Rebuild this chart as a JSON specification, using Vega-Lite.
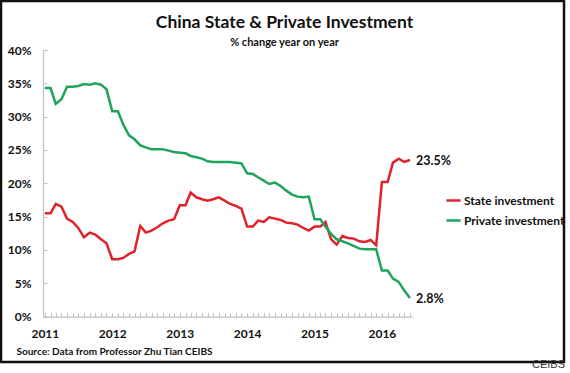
{
  "$schema": "https://vega.github.io/schema/vega-lite/v6.json",
  "autosize": "none",
  "padding": {"left": 1, "top": 1, "right": 6, "bottom": 11},
  "width": 563,
  "height": 361,
  "background": "white",
  "view": {"stroke": "#111111", "strokeWidth": 2.5},
  "title": {
    "text": "China State & Private Investment",
    "subtitle": "% change year on year",
    "anchor": "middle",
    "frame": "group",
    "offset": -47,
    "dx": 2,
    "font": "Lato",
    "fontSize": 17.5,
    "fontWeight": "bold",
    "color": "#111111",
    "subtitleFont": "Lato",
    "subtitleFontSize": 11,
    "subtitleFontWeight": "bold",
    "subtitleColor": "#111111",
    "subtitlePadding": 6
  },
  "data": {
    "values": [
      {"date": "2011/01/01", "State investment": 15.5, "Private investment": 34.3},
      {"date": "2011/02/01", "State investment": 15.5, "Private investment": 34.3},
      {"date": "2011/03/01", "State investment": 16.9, "Private investment": 31.9},
      {"date": "2011/04/01", "State investment": 16.5, "Private investment": 32.6},
      {"date": "2011/05/01", "State investment": 14.7, "Private investment": 34.5},
      {"date": "2011/06/01", "State investment": 14.2, "Private investment": 34.5},
      {"date": "2011/07/01", "State investment": 13.3, "Private investment": 34.6},
      {"date": "2011/08/01", "State investment": 11.9, "Private investment": 34.9},
      {"date": "2011/09/01", "State investment": 12.6, "Private investment": 34.8},
      {"date": "2011/10/01", "State investment": 12.3, "Private investment": 35.0},
      {"date": "2011/11/01", "State investment": 11.6, "Private investment": 34.8},
      {"date": "2011/12/01", "State investment": 11.0, "Private investment": 34.1},
      {"date": "2012/01/01", "State investment": 8.6, "Private investment": 30.8},
      {"date": "2012/02/01", "State investment": 8.6, "Private investment": 30.8},
      {"date": "2012/03/01", "State investment": 8.8, "Private investment": 28.8},
      {"date": "2012/04/01", "State investment": 9.4, "Private investment": 27.2},
      {"date": "2012/05/01", "State investment": 9.8, "Private investment": 26.6},
      {"date": "2012/06/01", "State investment": 13.6, "Private investment": 25.7},
      {"date": "2012/07/01", "State investment": 12.6, "Private investment": 25.4},
      {"date": "2012/08/01", "State investment": 12.9, "Private investment": 25.1},
      {"date": "2012/09/01", "State investment": 13.4, "Private investment": 25.1},
      {"date": "2012/10/01", "State investment": 14.0, "Private investment": 25.1},
      {"date": "2012/11/01", "State investment": 14.4, "Private investment": 24.9},
      {"date": "2012/12/01", "State investment": 14.6, "Private investment": 24.7},
      {"date": "2013/01/01", "State investment": 16.7, "Private investment": 24.6},
      {"date": "2013/02/01", "State investment": 16.7, "Private investment": 24.5},
      {"date": "2013/03/01", "State investment": 18.6, "Private investment": 24.1},
      {"date": "2013/04/01", "State investment": 17.9, "Private investment": 23.9},
      {"date": "2013/05/01", "State investment": 17.6, "Private investment": 23.7},
      {"date": "2013/06/01", "State investment": 17.4, "Private investment": 23.3},
      {"date": "2013/07/01", "State investment": 17.6, "Private investment": 23.2},
      {"date": "2013/08/01", "State investment": 17.9, "Private investment": 23.2},
      {"date": "2013/09/01", "State investment": 17.4, "Private investment": 23.2},
      {"date": "2013/10/01", "State investment": 16.9, "Private investment": 23.2},
      {"date": "2013/11/01", "State investment": 16.6, "Private investment": 23.1},
      {"date": "2013/12/01", "State investment": 16.2, "Private investment": 23.0},
      {"date": "2014/01/01", "State investment": 13.5, "Private investment": 21.5},
      {"date": "2014/02/01", "State investment": 13.5, "Private investment": 21.4},
      {"date": "2014/03/01", "State investment": 14.4, "Private investment": 20.9},
      {"date": "2014/04/01", "State investment": 14.2, "Private investment": 20.4},
      {"date": "2014/05/01", "State investment": 14.9, "Private investment": 19.9},
      {"date": "2014/06/01", "State investment": 14.7, "Private investment": 20.1},
      {"date": "2014/07/01", "State investment": 14.5, "Private investment": 19.6},
      {"date": "2014/08/01", "State investment": 14.1, "Private investment": 18.9},
      {"date": "2014/09/01", "State investment": 14.0, "Private investment": 18.3},
      {"date": "2014/10/01", "State investment": 13.8, "Private investment": 18.0},
      {"date": "2014/11/01", "State investment": 13.3, "Private investment": 17.9},
      {"date": "2014/12/01", "State investment": 12.9, "Private investment": 18.0},
      {"date": "2015/01/01", "State investment": 13.5, "Private investment": 14.6},
      {"date": "2015/02/01", "State investment": 13.5, "Private investment": 14.6},
      {"date": "2015/03/01", "State investment": 14.2, "Private investment": 13.5},
      {"date": "2015/04/01", "State investment": 11.6, "Private investment": 12.4},
      {"date": "2015/05/01", "State investment": 10.8, "Private investment": 11.6},
      {"date": "2015/06/01", "State investment": 12.1, "Private investment": 11.3},
      {"date": "2015/07/01", "State investment": 11.8, "Private investment": 11.0},
      {"date": "2015/08/01", "State investment": 11.7, "Private investment": 10.6},
      {"date": "2015/09/01", "State investment": 11.3, "Private investment": 10.2},
      {"date": "2015/10/01", "State investment": 11.2, "Private investment": 10.1},
      {"date": "2015/11/01", "State investment": 11.5, "Private investment": 10.1},
      {"date": "2015/12/01", "State investment": 10.7, "Private investment": 10.1},
      {"date": "2016/01/01", "State investment": 20.2, "Private investment": 6.9},
      {"date": "2016/02/01", "State investment": 20.2, "Private investment": 6.9},
      {"date": "2016/03/01", "State investment": 23.1, "Private investment": 5.7},
      {"date": "2016/04/01", "State investment": 23.7, "Private investment": 5.2},
      {"date": "2016/05/01", "State investment": 23.2, "Private investment": 3.9},
      {"date": "2016/06/01", "State investment": 23.5, "Private investment": 2.8}
    ]
  },
  "transform": [
    {"fold": ["State investment", "Private investment"], "as": ["series", "value"]}
  ],
  "encoding": {
    "x": {
      "field": "date",
      "type": "temporal",
      "scale": {
        "type": "time",
        "domain": [{"year": 2010, "month": 12, "date": 22}, {"year": 2016, "month": 6, "date": 12}],
        "range": [42, 411],
        "nice": false
      },
      "axis": {
        "title": "Source: Data from Professor Zhu Tian CEIBS",
        "titleX": 15,
        "titleY": 34.4,
        "titleAlign": "left",
        "titleBaseline": "middle",
        "titleAnchor": null,
        "titleFont": "Lato",
        "titleFontSize": 10,
        "titleFontWeight": "bold",
        "titleColor": "#111111",
        "offset": -45.4,
        "grid": false,
        "tickCount": {"interval": "month", "step": 1},
        "labelExpr": "month(datum.value) == 0 ? '' + year(datum.value) : ''",
        "labelOverlap": false,
        "labelFlush": false,
        "labelFont": "Lato",
        "labelFontSize": 12,
        "labelFontWeight": "bold",
        "labelColor": "#111111",
        "labelPadding": 16,
        "tickSize": -4,
        "tickColor": "#c0c0c0",
        "domainColor": "#c0c0c0",
        "domainWidth": 1.2
      }
    },
    "y": {
      "field": "value",
      "type": "quantitative",
      "scale": {"domain": [0, 40], "range": [315.6, 49], "nice": false, "zero": false},
      "axis": {
        "title": "CEIBS",
        "titleAngle": 0,
        "titleX": 505,
        "titleY": 363,
        "titleAlign": "center",
        "titleBaseline": "middle",
        "titleAnchor": null,
        "titleFont": "Liberation Sans",
        "titleFontSize": 11,
        "titleFontWeight": "normal",
        "titleColor": "#333333",
        "offset": -42,
        "grid": false,
        "values": [0, 5, 10, 15, 20, 25, 30, 35, 40],
        "labelExpr": "datum.value + '%'",
        "labelFont": "Lato",
        "labelFontSize": 12,
        "labelFontWeight": "bold",
        "labelColor": "#111111",
        "labelPadding": 16,
        "tickSize": -4,
        "tickColor": "#c0c0c0",
        "domainColor": "#c0c0c0",
        "domainWidth": 1.2
      }
    },
    "color": {
      "field": "series",
      "type": "nominal",
      "scale": {"domain": ["State investment", "Private investment"], "range": ["#e0232b", "#20a35a"]},
      "legend": {
        "orient": "none",
        "legendX": 444,
        "legendY": 191,
        "title": null,
        "padding": 0,
        "symbolType": "stroke",
        "symbolSize": 200,
        "symbolStrokeWidth": 2.5,
        "labelFont": "Lato",
        "labelFontSize": 12,
        "labelFontWeight": "bold",
        "labelColor": "#111111",
        "labelOffset": 2,
        "rowPadding": 5
      }
    }
  },
  "layer": [
    {"mark": {"type": "line", "strokeWidth": 2.5}},
    {
      "transform": [
        {"filter": "year(datum.date) == 2016 && month(datum.date) == 5"},
        {"calculate": "format(datum.value, '.1f') + '%'", "as": "lab"}
      ],
      "mark": {"type": "text", "align": "left", "baseline": "middle", "dx": 6, "dy": 1, "font": "Lato", "fontSize": 12.5, "fontWeight": "bold", "color": "#111111"},
      "encoding": {"text": {"field": "lab"}, "color": {"value": "#111111"}}
    }
  ]
}
